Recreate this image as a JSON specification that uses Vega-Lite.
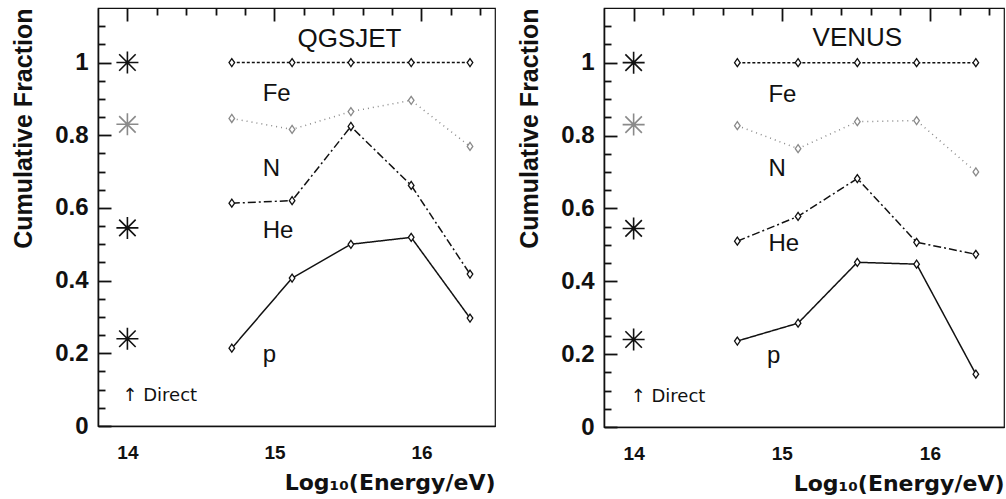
{
  "$schema": "https://vega.github.io/schema/vega-lite/v6.json",
  "padding": {"left": 11, "top": 7, "right": 4, "bottom": 2},
  "background": "white",
  "spacing": 21,
  "datasets": {
    "curves": [
      {"model": "QGSJET", "series": "Fe", "x": 14.71, "y": 1.0},
      {"model": "QGSJET", "series": "Fe", "x": 15.12, "y": 1.0},
      {"model": "QGSJET", "series": "Fe", "x": 15.52, "y": 1.0},
      {"model": "QGSJET", "series": "Fe", "x": 15.93, "y": 1.0},
      {"model": "QGSJET", "series": "Fe", "x": 16.33, "y": 1.0},
      {"model": "QGSJET", "series": "N", "x": 14.71, "y": 0.846},
      {"model": "QGSJET", "series": "N", "x": 15.12, "y": 0.816},
      {"model": "QGSJET", "series": "N", "x": 15.52, "y": 0.865},
      {"model": "QGSJET", "series": "N", "x": 15.93, "y": 0.896},
      {"model": "QGSJET", "series": "N", "x": 16.33, "y": 0.769},
      {"model": "QGSJET", "series": "He", "x": 14.71, "y": 0.613},
      {"model": "QGSJET", "series": "He", "x": 15.12, "y": 0.62},
      {"model": "QGSJET", "series": "He", "x": 15.52, "y": 0.824},
      {"model": "QGSJET", "series": "He", "x": 15.93, "y": 0.662},
      {"model": "QGSJET", "series": "He", "x": 16.33, "y": 0.418},
      {"model": "QGSJET", "series": "p", "x": 14.71, "y": 0.214},
      {"model": "QGSJET", "series": "p", "x": 15.12, "y": 0.407},
      {"model": "QGSJET", "series": "p", "x": 15.52, "y": 0.5},
      {"model": "QGSJET", "series": "p", "x": 15.93, "y": 0.519},
      {"model": "QGSJET", "series": "p", "x": 16.33, "y": 0.297},
      {"model": "VENUS", "series": "Fe", "x": 14.7, "y": 1.0},
      {"model": "VENUS", "series": "Fe", "x": 15.11, "y": 1.0},
      {"model": "VENUS", "series": "Fe", "x": 15.51, "y": 1.0},
      {"model": "VENUS", "series": "Fe", "x": 15.91, "y": 1.0},
      {"model": "VENUS", "series": "Fe", "x": 16.31, "y": 1.0},
      {"model": "VENUS", "series": "N", "x": 14.7, "y": 0.827},
      {"model": "VENUS", "series": "N", "x": 15.11, "y": 0.764},
      {"model": "VENUS", "series": "N", "x": 15.51, "y": 0.838},
      {"model": "VENUS", "series": "N", "x": 15.91, "y": 0.841},
      {"model": "VENUS", "series": "N", "x": 16.31, "y": 0.7},
      {"model": "VENUS", "series": "He", "x": 14.7, "y": 0.51},
      {"model": "VENUS", "series": "He", "x": 15.11, "y": 0.578},
      {"model": "VENUS", "series": "He", "x": 15.51, "y": 0.682},
      {"model": "VENUS", "series": "He", "x": 15.91, "y": 0.507},
      {"model": "VENUS", "series": "He", "x": 16.31, "y": 0.474},
      {"model": "VENUS", "series": "p", "x": 14.7, "y": 0.236},
      {"model": "VENUS", "series": "p", "x": 15.11, "y": 0.285},
      {"model": "VENUS", "series": "p", "x": 15.51, "y": 0.452},
      {"model": "VENUS", "series": "p", "x": 15.91, "y": 0.447},
      {"model": "VENUS", "series": "p", "x": 16.31, "y": 0.145}
    ],
    "direct": [
      {"model": "QGSJET", "series": "Fe", "x": 14, "y": 1.0},
      {"model": "QGSJET", "series": "N", "x": 14, "y": 0.83},
      {"model": "QGSJET", "series": "He", "x": 14, "y": 0.545},
      {"model": "QGSJET", "series": "p", "x": 14, "y": 0.24},
      {"model": "VENUS", "series": "Fe", "x": 14, "y": 1.0},
      {"model": "VENUS", "series": "N", "x": 14, "y": 0.83},
      {"model": "VENUS", "series": "He", "x": 14, "y": 0.545},
      {"model": "VENUS", "series": "p", "x": 14, "y": 0.24}
    ],
    "labels": [
      {"model": "QGSJET", "kind": "title", "text": "QGSJET", "x": 15.51, "y": 1.044},
      {"model": "QGSJET", "kind": "label", "text": "Fe", "x": 14.92, "y": 0.893},
      {"model": "QGSJET", "kind": "label", "text": "N", "x": 14.92, "y": 0.687},
      {"model": "QGSJET", "kind": "label", "text": "He", "x": 14.92, "y": 0.516},
      {"model": "QGSJET", "kind": "label", "text": "p", "x": 14.92, "y": 0.176},
      {"model": "QGSJET", "kind": "note", "text": "↑ Direct", "x": 13.966, "y": 0.069},
      {"model": "VENUS", "kind": "title", "text": "VENUS", "x": 15.51, "y": 1.047},
      {"model": "VENUS", "kind": "label", "text": "Fe", "x": 14.91, "y": 0.893},
      {"model": "VENUS", "kind": "label", "text": "N", "x": 14.91, "y": 0.688},
      {"model": "VENUS", "kind": "label", "text": "He", "x": 14.91, "y": 0.482},
      {"model": "VENUS", "kind": "label", "text": "p", "x": 14.9, "y": 0.175},
      {"model": "VENUS", "kind": "note", "text": "↑ Direct", "x": 13.98, "y": 0.068}
    ]
  },
  "hconcat": [
    {
      "width": 397,
      "height": 418,
      "resolve": {"axis": {"x": "independent", "y": "independent"}},
      "encoding": {
        "x": {"field": "x", "type": "quantitative", "scale": {"domain": [13.8, 16.5], "nice": false, "zero": false}, "axis": null},
        "y": {"field": "y", "type": "quantitative", "scale": {"domain": [0, 1.15], "nice": false}, "axis": null}
      },
      "layer": [
        {"data": {"name": "curves"}, "transform": [{"filter": "datum.model == 'QGSJET'"}],
          "mark": {"type": "line", "strokeWidth": 1.5},
          "encoding": {
            "x": {"field": "x", "type": "quantitative", "scale": {"domain": [13.8, 16.5], "nice": false, "zero": false},
              "axis": {"orient": "bottom", "title": "Log₁₀(Energy/eV)", "values": [14, 15, 16], "format": "~g", "grid": false, "ticks": false, "tickSize": 0, "labelPadding": 17}},
            "y": {"field": "y", "type": "quantitative", "scale": {"domain": [0, 1.15], "nice": false},
              "axis": {"orient": "left", "title": "Cumulative Fraction", "values": [0, 0.2, 0.4, 0.6, 0.8, 1], "format": "~g", "grid": false, "ticks": false, "tickSize": 0, "labelPadding": 10}},
            "detail": {"field": "series"},
            "color": {"field": "series", "type": "nominal", "scale": {"domain": ["Fe", "N", "He", "p"], "range": ["#111111", "#8a8a8a", "#111111", "#111111"]}, "legend": null},
            "strokeDash": {"field": "series", "type": "nominal", "scale": {"domain": ["Fe", "N", "He", "p"], "range": [[3, 2], [1, 4], [8, 3, 2, 3], [1, 0]]}, "legend": null}
          }},
        {"data": {"name": "curves"}, "transform": [{"filter": "datum.model == 'QGSJET'"}],
          "mark": {"type": "point", "shape": "M0,-1L0.7,0L0,1L-0.7,0Z", "size": 64, "filled": true, "fill": "white", "strokeWidth": 1.3, "opacity": 1},
          "encoding": {
            "x": {"field": "x", "type": "quantitative", "scale": {"domain": [13.8, 16.5], "nice": false, "zero": false},
              "axis": {"orient": "bottom", "title": null, "values": [14.2, 14.4, 14.6, 14.8, 15.2, 15.4, 15.6, 15.8, 16.2, 16.4], "labels": false, "domain": false, "ticks": false, "grid": true, "gridColor": "#111111", "gridWidth": 1.8, "gridOpacity": 1, "gridDash": [7, 3000]}},
            "y": {"field": "y", "type": "quantitative", "scale": {"domain": [0, 1.15], "nice": false},
              "axis": {"orient": "left", "title": null, "values": [0.05, 0.1, 0.15, 0.25, 0.3, 0.35, 0.45, 0.5, 0.55, 0.65, 0.7, 0.75, 0.85, 0.9, 0.95, 1.05, 1.1], "labels": false, "domain": false, "ticks": false, "grid": true, "gridColor": "#111111", "gridWidth": 1.8, "gridOpacity": 1, "gridDash": [7, 3000]}},
            "stroke": {"field": "series", "type": "nominal", "scale": {"domain": ["Fe", "N", "He", "p"], "range": ["#111111", "#8a8a8a", "#111111", "#111111"]}, "legend": null}
          }},
        {"data": {"name": "direct"}, "transform": [{"filter": "datum.model == 'QGSJET'"}],
          "mark": {"type": "point", "shape": "M-1,0L1,0M0,-1L0,1M-0.75,-0.75L0.75,0.75M-0.75,0.75L0.75,-0.75", "size": 484, "filled": false, "strokeWidth": 1.6, "opacity": 1},
          "encoding": {
            "x": {"field": "x", "type": "quantitative", "scale": {"domain": [13.8, 16.5], "nice": false, "zero": false},
              "axis": {"orient": "bottom", "title": null, "values": [14, 15, 16], "labels": false, "domain": false, "ticks": false, "grid": true, "gridColor": "#111111", "gridWidth": 1.8, "gridOpacity": 1, "gridDash": [13, 3000]}},
            "y": {"field": "y", "type": "quantitative", "scale": {"domain": [0, 1.15], "nice": false},
              "axis": {"orient": "left", "title": null, "values": [0, 0.2, 0.4, 0.6, 0.8, 1], "labels": false, "domain": false, "ticks": false, "grid": true, "gridColor": "#111111", "gridWidth": 1.8, "gridOpacity": 1, "gridDash": [13, 3000]}},
            "stroke": {"field": "series", "type": "nominal", "scale": {"domain": ["Fe", "N", "He", "p"], "range": ["#111111", "#aaaaaa", "#111111", "#111111"]}, "legend": null}
          }},
        {"data": {"name": "labels"}, "transform": [{"filter": "datum.model == 'QGSJET' && datum.kind == 'title'"}],
          "mark": {"type": "text", "align": "center", "baseline": "alphabetic", "fontSize": 26, "font": "Liberation Sans", "color": "#111111"},
          "encoding": {"text": {"field": "text"}}},
        {"data": {"name": "labels"}, "transform": [{"filter": "datum.model == 'QGSJET' && datum.kind == 'label'"}],
          "mark": {"type": "text", "align": "left", "baseline": "alphabetic", "fontSize": 24, "font": "Liberation Sans", "color": "#111111"},
          "encoding": {"text": {"field": "text"}}},
        {"data": {"name": "labels"}, "transform": [{"filter": "datum.model == 'QGSJET' && datum.kind == 'note'"}],
          "mark": {"type": "text", "align": "left", "baseline": "alphabetic", "fontSize": 18, "font": "DejaVu Sans", "color": "#111111"},
          "encoding": {"text": {"field": "text"}}}
      ]
    },
    {
      "width": 400,
      "height": 419,
      "resolve": {"axis": {"x": "independent", "y": "independent"}},
      "encoding": {
        "x": {"field": "x", "type": "quantitative", "scale": {"domain": [13.8, 16.5], "nice": false, "zero": false}, "axis": null},
        "y": {"field": "y", "type": "quantitative", "scale": {"domain": [0, 1.15], "nice": false}, "axis": null}
      },
      "layer": [
        {"data": {"name": "curves"}, "transform": [{"filter": "datum.model == 'VENUS'"}],
          "mark": {"type": "line", "strokeWidth": 1.5},
          "encoding": {
            "x": {"field": "x", "type": "quantitative", "scale": {"domain": [13.8, 16.5], "nice": false, "zero": false},
              "axis": {"orient": "bottom", "title": "Log₁₀(Energy/eV)", "values": [14, 15, 16], "format": "~g", "grid": false, "ticks": false, "tickSize": 0, "labelPadding": 17}},
            "y": {"field": "y", "type": "quantitative", "scale": {"domain": [0, 1.15], "nice": false},
              "axis": {"orient": "left", "title": "Cumulative Fraction", "values": [0, 0.2, 0.4, 0.6, 0.8, 1], "format": "~g", "grid": false, "ticks": false, "tickSize": 0, "labelPadding": 10}},
            "detail": {"field": "series"},
            "color": {"field": "series", "type": "nominal", "scale": {"domain": ["Fe", "N", "He", "p"], "range": ["#111111", "#8a8a8a", "#111111", "#111111"]}, "legend": null},
            "strokeDash": {"field": "series", "type": "nominal", "scale": {"domain": ["Fe", "N", "He", "p"], "range": [[3, 2], [1, 4], [8, 3, 2, 3], [1, 0]]}, "legend": null}
          }},
        {"data": {"name": "curves"}, "transform": [{"filter": "datum.model == 'VENUS'"}],
          "mark": {"type": "point", "shape": "M0,-1L0.7,0L0,1L-0.7,0Z", "size": 64, "filled": true, "fill": "white", "strokeWidth": 1.3, "opacity": 1},
          "encoding": {
            "x": {"field": "x", "type": "quantitative", "scale": {"domain": [13.8, 16.5], "nice": false, "zero": false},
              "axis": {"orient": "bottom", "title": null, "values": [14.2, 14.4, 14.6, 14.8, 15.2, 15.4, 15.6, 15.8, 16.2, 16.4], "labels": false, "domain": false, "ticks": false, "grid": true, "gridColor": "#111111", "gridWidth": 1.8, "gridOpacity": 1, "gridDash": [7, 3000]}},
            "y": {"field": "y", "type": "quantitative", "scale": {"domain": [0, 1.15], "nice": false},
              "axis": {"orient": "left", "title": null, "values": [0.05, 0.1, 0.15, 0.25, 0.3, 0.35, 0.45, 0.5, 0.55, 0.65, 0.7, 0.75, 0.85, 0.9, 0.95, 1.05, 1.1], "labels": false, "domain": false, "ticks": false, "grid": true, "gridColor": "#111111", "gridWidth": 1.8, "gridOpacity": 1, "gridDash": [7, 3000]}},
            "stroke": {"field": "series", "type": "nominal", "scale": {"domain": ["Fe", "N", "He", "p"], "range": ["#111111", "#8a8a8a", "#111111", "#111111"]}, "legend": null}
          }},
        {"data": {"name": "direct"}, "transform": [{"filter": "datum.model == 'VENUS'"}],
          "mark": {"type": "point", "shape": "M-1,0L1,0M0,-1L0,1M-0.75,-0.75L0.75,0.75M-0.75,0.75L0.75,-0.75", "size": 484, "filled": false, "strokeWidth": 1.6, "opacity": 1},
          "encoding": {
            "x": {"field": "x", "type": "quantitative", "scale": {"domain": [13.8, 16.5], "nice": false, "zero": false},
              "axis": {"orient": "bottom", "title": null, "values": [14, 15, 16], "labels": false, "domain": false, "ticks": false, "grid": true, "gridColor": "#111111", "gridWidth": 1.8, "gridOpacity": 1, "gridDash": [13, 3000]}},
            "y": {"field": "y", "type": "quantitative", "scale": {"domain": [0, 1.15], "nice": false},
              "axis": {"orient": "left", "title": null, "values": [0, 0.2, 0.4, 0.6, 0.8, 1], "labels": false, "domain": false, "ticks": false, "grid": true, "gridColor": "#111111", "gridWidth": 1.8, "gridOpacity": 1, "gridDash": [13, 3000]}},
            "stroke": {"field": "series", "type": "nominal", "scale": {"domain": ["Fe", "N", "He", "p"], "range": ["#111111", "#aaaaaa", "#111111", "#111111"]}, "legend": null}
          }},
        {"data": {"name": "labels"}, "transform": [{"filter": "datum.model == 'VENUS' && datum.kind == 'title'"}],
          "mark": {"type": "text", "align": "center", "baseline": "alphabetic", "fontSize": 26, "font": "Liberation Sans", "color": "#111111"},
          "encoding": {"text": {"field": "text"}}},
        {"data": {"name": "labels"}, "transform": [{"filter": "datum.model == 'VENUS' && datum.kind == 'label'"}],
          "mark": {"type": "text", "align": "left", "baseline": "alphabetic", "fontSize": 24, "font": "Liberation Sans", "color": "#111111"},
          "encoding": {"text": {"field": "text"}}},
        {"data": {"name": "labels"}, "transform": [{"filter": "datum.model == 'VENUS' && datum.kind == 'note'"}],
          "mark": {"type": "text", "align": "left", "baseline": "alphabetic", "fontSize": 18, "font": "DejaVu Sans", "color": "#111111"},
          "encoding": {"text": {"field": "text"}}}
      ]
    }
  ],
  "config": {
    "view": {"stroke": "#111111", "strokeWidth": 1.2},
    "axis": {"domainColor": "#111111", "domainWidth": 1.6, "labelColor": "#111111", "titleColor": "#111111",
      "labelFont": "Liberation Sans", "titleFont": "Liberation Sans", "labelFontWeight": "bold", "titleFontWeight": "bold", "labelOverlap": false, "labelFlush": false},
    "axisX": {"labelFontSize": 19, "titleFontSize": 22, "titlePadding": 10, "titleAnchor": "end", "titleFont": "DejaVu Sans"},
    "axisY": {"labelFontSize": 24, "titleFontSize": 25, "titlePadding": 18, "titleAnchor": "end"}
  }
}
